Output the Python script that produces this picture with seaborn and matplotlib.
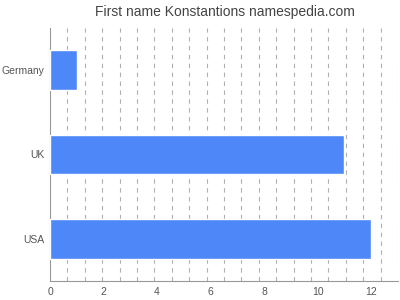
import matplotlib
matplotlib.use("Agg")
import matplotlib.pyplot as plt
import seaborn as sns
import numpy as np
import pandas as pd

countries = ["Germany", "UK", "USA"]
counts = [1, 11, 12]
title = "First name Konstantions namespedia.com"

sns.set_style("white")
plt.rcParams['font.family'] = ['Liberation Sans', 'DejaVu Sans']

df = pd.DataFrame({"country": countries, "count": counts})

fig = plt.figure(figsize=(4, 3), dpi=100)
ax = fig.add_axes([0.125, 0.0633, 0.87, 0.8434])
sns.barplot(data=df, x="count", y="country", color="#4e88f8", saturation=1,
            width=0.47, ax=ax, zorder=3)
ax.set_xlim(0, 13)
ax.set_ylim(2.49, -0.49)
ax.set_xticks(np.arange(0, 13, 2))
ax.set_xticks(np.arange(0, 13.01, 0.65), minor=True)
ax.grid(False)
ax.grid(True, which="minor", axis="x", color="#b0b0b0", linestyle=(0, (4, 4)), linewidth=0.8, zorder=0)
ax.tick_params(axis="x", which="minor", length=0)
ax.tick_params(axis="both", which="major", length=3, width=0.8, color="#999999",
               labelsize=7.5, labelcolor="#555555", pad=1)
ax.set_xlabel("")
ax.set_ylabel("")
for s in ["top", "right"]:
    ax.spines[s].set_visible(False)
for s in ["left", "bottom"]:
    ax.spines[s].set_color("#999999")
    ax.spines[s].set_linewidth(0.8)
fig.text(0.5625, 0.96, title, ha="center", va="center", fontsize=10, color="#444444")
fig.savefig("out.png", dpi=100)
